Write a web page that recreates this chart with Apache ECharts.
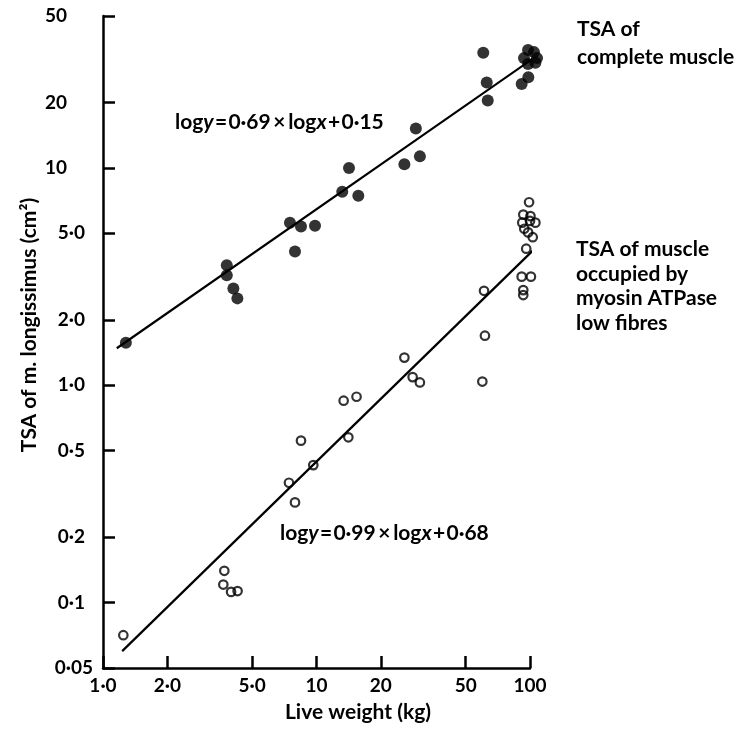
<!DOCTYPE html>
<html>
<head>
<meta charset="utf-8">
<script src="https://cdn.jsdelivr.net/npm/echarts@6/dist/echarts.min.js"></script>
<style>
  html, body { margin: 0; background: #fff; }
  #chart { width: 739px; height: 731px; }
</style>
</head>
<body>
<div id="chart"></div>
<script>
// axis ticks (log scales)
const xTicks = [1, 2, 5, 10, 20, 50, 100];
const xTickLabels = ['1·0', '2·0', '5·0', '10', '20', '50', '100'];
const yTicks = [0.05, 0.1, 0.2, 0.5, 1, 2, 5, 10, 20, 50];
const yTickLabels = ['0·05', '0·1', '0·2', '0·5', '1·0', '2·0', '5·0', '10', '20', '50'];

// TSA of complete muscle (filled dots)
const completeWeight = [1.28, 3.8, 3.8, 4.08, 4.26, 7.51, 7.93, 8.46, 9.84, 13.2, 14.2, 15.7,
  25.8, 29.2, 30.5, 60.4, 62.7, 63.4, 91.4, 98.2, 97.9, 104.4, 93.7, 107.9, 97.9, 106];
const completeTsa = [1.57, 3.57, 3.21, 2.79, 2.51, 5.59, 4.12, 5.37, 5.42, 7.77, 10.0, 7.45,
  10.4, 15.2, 11.3, 33.9, 24.7, 20.4, 24.3, 26.1, 34.9, 34.1, 32.0, 32.0, 30.1, 30.5];

// TSA occupied by myosin ATPase low fibres (open dots)
const lowWeight = [1.245, 3.70, 3.66, 3.98, 4.27, 7.43, 7.93, 8.46, 9.66, 13.4, 14.1, 15.4,
  25.8, 28.2, 30.5, 59.8, 60.9, 61.5, 91.4, 101, 93, 93, 96, 99, 93, 100.5, 92, 100, 106, 94, 98, 103];
const lowTsa = [0.0708, 0.140, 0.121, 0.112, 0.113, 0.356, 0.289, 0.556, 0.429, 0.849, 0.576, 0.885,
  1.34, 1.09, 1.03, 1.04, 2.72, 1.69, 3.16, 3.16, 2.74, 2.60, 4.25, 6.95, 6.1, 6.0, 5.6, 5.7, 5.6, 5.25, 5.05, 4.8];

// fitted lines, end points
const completeFitWeight = [1.16, 126];
const completeFitTsa = [1.48, 36.5];
const lowFitWeight = [1.23, 126];
const lowFitTsa = [0.0598, 5.05];

const FONT = 'Lato';
const zip = (a, b) => a.map((v, i) => [v, b[i]]);

function tickLabel(ticks, labels, rich) {
  return v => {
    const i = ticks.findIndex(t => Math.abs(Math.log10(t) - Math.log10(v)) < 1e-6);
    const s = i < 0 ? '' : labels[i];
    if (!rich || s === '0·05') return s;
    return s.indexOf('·') < 0 ? '{i|' + s + '}' : '{d|' + s + '}';
  };
}

const chart = echarts.init(document.getElementById('chart'));

const axisCommon = {
  type: 'log',
  logBase: 10,
  splitLine: { show: false },
  minorTick: { show: false },
  axisLine: { show: true, lineStyle: { color: '#000', width: 2.5 } }
};

const lblFont = { fontFamily: FONT, fontWeight: 'bold', fontSize: 19, color: '#000' };
const eqRich = { i: { fontFamily: FONT, fontSize: 21, fontWeight: 'bold', fontStyle: 'italic', fill: '#000' } };

chart.setOption({
  animation: false,
  backgroundColor: '#fff',
  grid: { left: 103, right: 209, top: 16, bottom: 63, containLabel: false },
  xAxis: Object.assign({}, axisCommon, {
    min: 1,
    max: 100,
    axisTick: { inside: true, length: 12, customValues: xTicks, lineStyle: { color: '#000', width: 2.5 } },
    axisLabel: Object.assign({
      customValues: xTicks,
      formatter: tickLabel(xTicks, xTickLabels, false),
      margin: 8
    }, lblFont)
  }),
  yAxis: Object.assign({}, axisCommon, {
    min: 0.05,
    max: 50,
    axisTick: { inside: true, length: 12, customValues: yTicks, lineStyle: { color: '#000', width: 2.5 } },
    axisLabel: Object.assign({
      customValues: yTicks,
      formatter: tickLabel(yTicks, yTickLabels, true),
      margin: 10,
      rich: {
        d: Object.assign({ padding: [0, 8, 0, 0] }, lblFont),
        i: Object.assign({ padding: [0, 26, 0, 0] }, lblFont)
      }
    }, lblFont)
  }),
  series: [
    {
      name: 'complete fit',
      type: 'line',
      data: zip(completeFitWeight, completeFitTsa),
      showSymbol: false,
      clip: false,
      lineStyle: { color: '#000', width: 2.2 }
    },
    {
      name: 'low fit',
      type: 'line',
      data: zip(lowFitWeight, lowFitTsa),
      showSymbol: false,
      clip: false,
      lineStyle: { color: '#000', width: 2.2 }
    },
    {
      name: 'TSA of complete muscle',
      type: 'scatter',
      data: zip(completeWeight, completeTsa),
      symbol: 'circle',
      symbolSize: 12,
      clip: false,
      itemStyle: { color: '#000' }
    },
    {
      name: 'TSA low fibres',
      type: 'scatter',
      data: zip(lowWeight, lowTsa),
      symbol: 'circle',
      symbolSize: 8.5,
      clip: false,
      itemStyle: { color: 'rgba(0,0,0,0)', borderColor: '#000', borderWidth: 2.2 }
    }
  ],
  graphic: [
    {
      type: 'text', x: 175, y: 122,
      style: {
        text: 'log{i|y}\u200a=\u200a0·69\u2009×\u2009log{i|x}\u200a+\u200a0·15',
        fontFamily: FONT, fontSize: 21, fontWeight: 'bold', fill: '#000', verticalAlign: 'middle',
        rich: eqRich
      }
    },
    {
      type: 'text', x: 280, y: 533,
      style: {
        text: 'log{i|y}\u200a=\u200a0·99\u2009×\u2009log{i|x}\u200a+\u200a0·68',
        fontFamily: FONT, fontSize: 21, fontWeight: 'bold', fill: '#000', verticalAlign: 'middle',
        rich: eqRich
      }
    },
    {
      type: 'text', x: 577, y: 15,
      style: {
        text: 'TSA of\ncomplete muscle',
        fontFamily: FONT, fontSize: 21, fontWeight: 'bold', lineHeight: 28, fill: '#000'
      }
    },
    {
      type: 'text', x: 576, y: 237,
      style: {
        text: 'TSA of muscle\noccupied by\nmyosin ATPase\nlow fibres',
        fontFamily: FONT, fontSize: 21, fontWeight: 'bold', lineHeight: 24.5, fill: '#000'
      }
    },
    {
      type: 'text', x: 358, y: 712,
      style: {
        text: 'Live weight (kg)',
        fontFamily: FONT, fontSize: 21, fontWeight: 'bold', fill: '#000',
        align: 'center', verticalAlign: 'middle'
      }
    },
    {
      type: 'text', x: 29, y: 325, rotation: Math.PI / 2,
      style: {
        text: 'TSA of m. longissimus (cm²)',
        fontFamily: FONT, fontSize: 21, fontWeight: 'bold', fill: '#000',
        align: 'center', verticalAlign: 'middle'
      }
    }
  ]
});
</script>
</body>
</html>
